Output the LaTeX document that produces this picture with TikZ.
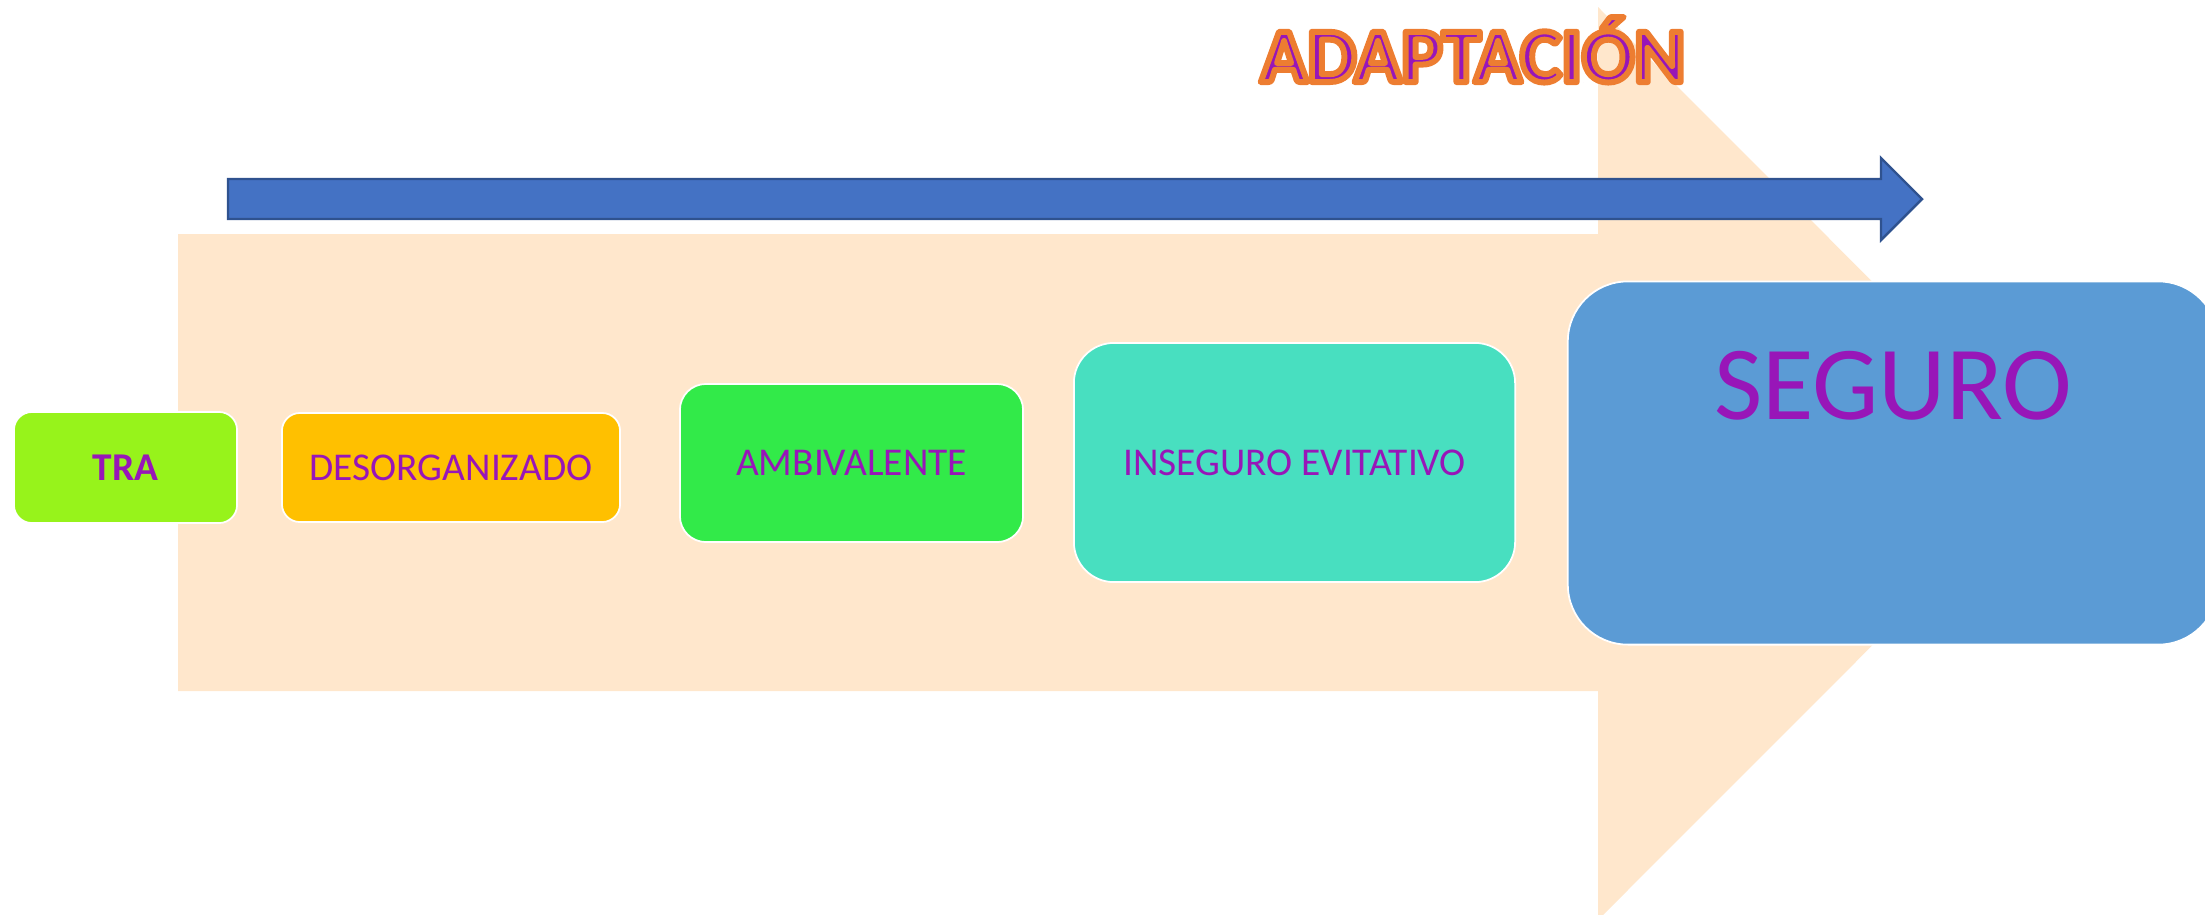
\documentclass[tikz,border=0pt]{standalone}
\usepackage{fontspec}
\setmainfont{Carlito}
\usepackage{tikz}

\definecolor{durazno}{HTML}{FFE7CC}
\definecolor{azulflecha}{HTML}{4472C4}
\definecolor{azulborde}{HTML}{2F528F}
\definecolor{verdelima}{HTML}{97F31B}
\definecolor{ambar}{HTML}{FFC000}
\definecolor{verde}{HTML}{32EA49}
\definecolor{turquesa}{HTML}{48DFC0}
\definecolor{azulseguro}{HTML}{5B9BD5}
\definecolor{morado}{HTML}{9816B8}
\definecolor{naranja}{HTML}{ED7D31}

% texto con contorno naranja
\newcommand{\contorno}[1]{\special{pdf:code 2 Tr 1.7 w 1 j 0.929 0.490 0.192 RG}#1\special{pdf:code 0 Tr}}

\begin{document}
\begin{tikzpicture}[x=0.01cm, y=-0.01cm,
    caja/.style={draw=white, line width=0.5pt, text=morado, inner sep=0pt,
      font=\fontsize{11.2pt}{13pt}\selectfont}]
            \useasboundingbox (0,0) rectangle (2205,914);
            \clip (0,0) rectangle (2205,914);

            % Flecha de fondo
            \fill[durazno] (178,234) -- (1598,234) -- (1598,7) -- (2054,463.5)
              -- (1598,920) -- (1598,691) -- (178,691) -- cycle;

            % Flecha azul
            \draw[azulborde, line width=0.7pt, fill=azulflecha] (228,179) -- (1881,179)
              -- (1881,158) -- (1922,199) -- (1881,240) -- (1881,219) -- (228,219) -- cycle;

            % Titulo
            \node[anchor=base east, text=morado, inner sep=0pt,
              font=\fontsize{22pt}{26pt}\selectfont\bfseries] (titulo) at (1686,82)
              {\contorno{ADAPTACIÓN}};

            % Etapas
            \node[caja, fill=verdelima, rounded corners=0.18cm, minimum width=2.23cm,
              minimum height=1.11cm, font=\fontsize{11.2pt}{13pt}\selectfont\bfseries] (tra) at (125.5,467.5) {TRA};
            \node[caja, fill=ambar, rounded corners=0.18cm, minimum width=3.38cm,
              minimum height=1.09cm] (desorg) at (451,467.5) {DESORGANIZADO};
            \node[caja, fill=verde, rounded corners=0.26cm, minimum width=3.43cm,
              minimum height=1.58cm] (ambiv) at (851.5,463) {AMBIVALENTE};
            \node[caja, fill=turquesa, rounded corners=0.4cm, minimum width=4.41cm,
              minimum height=2.39cm] (inseg) at (1294.5,462.5) {INSEGURO EVITATIVO};
            \node[caja, fill=azulseguro, rounded corners=0.6cm, minimum width=6.5cm,
              minimum height=3.63cm, text height=0.7cm, text depth=1.56cm,
              font=\fontsize{29.9pt}{35pt}\selectfont] (seguro) at (1893,463) {SEGURO};
\end{tikzpicture}
\end{document}
